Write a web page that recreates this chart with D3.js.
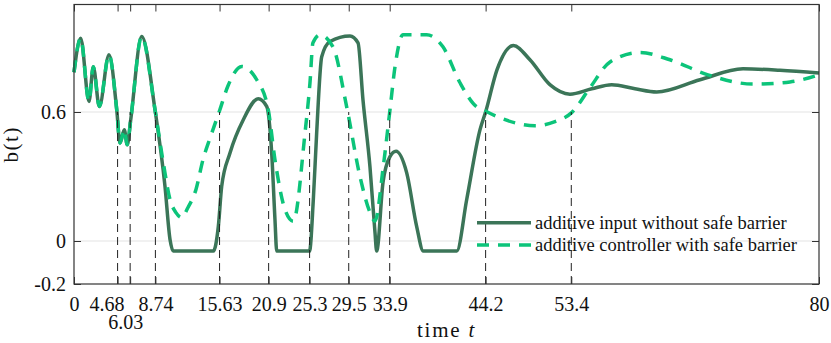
<!DOCTYPE html>
<html>
<head>
<meta charset="utf-8">
<script src="https://cdn.jsdelivr.net/npm/d3@7"></script>
<style>
  body { margin: 0; background: #fff; }
  svg { display: block; font-family: "Liberation Serif", "DejaVu Serif", serif; }
</style>
</head>
<body>
<svg id="chart" width="831" height="343"></svg>
<script>
// tick positions on the time axis (switch times)
const timeTicks = [0, 4.68, 6.03, 8.74, 15.63, 20.9, 25.3, 29.5, 33.9, 44.2, 53.4, 80];
const switchTimes = [4.68, 6.03, 8.74, 15.63, 20.9, 25.3, 29.5, 33.9, 44.2, 53.4];
const yTicks = [-0.2, 0, 0.6];
const barrierLevel = 0.6;

// additive input without safe barrier
const tInput = [0, 0.72, 1.61, 2.07, 2.72, 3.76, 4.59, 4.94, 5.40, 5.72, 6.09, 7.27, 8.70, 9.77, 10.31, 10.66,
  14.96, 15.50, 15.86, 16.75, 18.18, 19.79, 20.69, 21.23, 21.58, 21.77,
  25.29, 25.70, 26.06, 26.60, 27.49, 29.64, 30.50, 31.03, 31.78, 32.32, 32.50,
  33.18, 33.93, 34.58, 35.72, 36.80, 37.51, 41.10, 42.17, 43.60, 44.2, 45.42, 47.17,
  48.96, 51.1, 53.26, 55.6, 57.74, 60.24, 62.57, 67.22, 71.84, 75.81, 80];
const bInput = [0.785, 0.943, 0.649, 0.811, 0.626, 0.866, 0.610, 0.456, 0.518, 0.448, 0.564, 0.951, 0.61, 0.254, 0.007, -0.047,
  -0.047, 0.069, 0.254, 0.409, 0.564, 0.662, 0.626, 0.409, 0.10, -0.047,
  -0.047, 0.193, 0.504, 0.857, 0.928, 0.954, 0.922, 0.657, 0.346, 0.04, -0.047,
  0.272, 0.392, 0.417, 0.318, 0.067, -0.047, -0.047, 0.193, 0.518, 0.60, 0.796, 0.909,
  0.843, 0.727, 0.683, 0.708, 0.727, 0.708, 0.693, 0.75, 0.801, 0.794, 0.781];

// additive controller with safe barrier
const tCtrl = [0, 0.72, 1.61, 2.07, 2.72, 3.76, 4.59, 4.94, 5.40, 5.72, 6.09, 7.27, 8.70, 9.59, 10.31, 10.95,
  11.54, 12.24, 13.1, 13.85, 14.66, 15.63, 16.54, 18.01, 19.62, 20.86, 21.58, 22.66, 23.55,
  24.81, 25.34, 25.66, 26.42, 27.81, 29.28, 30.71, 31.79, 32.32, 33.21, 33.93, 34.47, 35.33,
  37.87, 39.62, 41.45, 43.24, 43.92, 45.74, 49.5, 51.65, 53.44, 55.41, 57.56, 60.78, 64,
  68.08, 72.91, 76.89, 80];
const bCtrl = [0.785, 0.943, 0.649, 0.811, 0.626, 0.866, 0.610, 0.456, 0.518, 0.448, 0.564, 0.951, 0.61, 0.364, 0.193, 0.132,
  0.109, 0.156, 0.24, 0.378, 0.485, 0.606, 0.722, 0.812, 0.75, 0.611, 0.378, 0.146, 0.092,
  0.504, 0.736, 0.922, 0.959, 0.903, 0.624, 0.30, 0.132, 0.092, 0.346, 0.61, 0.81, 0.959,
  0.959, 0.903, 0.736, 0.624, 0.61, 0.573, 0.536, 0.555, 0.597, 0.713, 0.833, 0.877, 0.843,
  0.773, 0.73, 0.74, 0.773];

const seriesNames = ["additive input without safe barrier", "additive controller with safe barrier"];

const svg = d3.select("#chart");
const width = 831, height = 343;
const margin = { top: 4.5, right: 12, bottom: 59, left: 74 };
const innerW = width - margin.left - margin.right;
const innerH = height - margin.top - margin.bottom;
const serif = "Liberation Serif, DejaVu Serif, serif";

const x = d3.scaleLinear().domain([0, 80]).range([margin.left, margin.left + innerW]);
const y = d3.scaleLinear().domain([-0.2, 1.1]).range([margin.top + innerH, margin.top]);

const solidColor = "#3b7558";
const dashColor = "#0cc47a";
const axisColor = "#333";

// grid lines
svg.append("g")
  .selectAll("line")
  .data(yTicks.filter(d => d > -0.2))
  .join("line")
    .attr("x1", x(0)).attr("x2", x(80))
    .attr("y1", d => y(d)).attr("y2", d => y(d))
    .attr("stroke", "#e3e3e3")
    .attr("stroke-width", 1);

const line = d3.line()
  .x(d => x(d[0]))
  .y(d => y(d[1]))
  .curve(d3.curveMonotoneX);

svg.append("path")
  .datum(d3.zip(tInput, bInput))
  .attr("fill", "none")
  .attr("stroke", solidColor)
  .attr("stroke-width", 3.5)
  .attr("stroke-linejoin", "round")
  .attr("d", line);

svg.append("path")
  .datum(d3.zip(tCtrl, bCtrl))
  .attr("fill", "none")
  .attr("stroke", dashColor)
  .attr("stroke-width", 3.5)
  .attr("stroke-dasharray", "12,9")
  .attr("d", line);

// vertical markers from the bottom to the barrier level
svg.append("g")
  .selectAll("line")
  .data(switchTimes)
  .join("line")
    .attr("x1", d => x(d)).attr("x2", d => x(d))
    .attr("y1", y(-0.2)).attr("y2", y(barrierLevel))
    .attr("stroke", "#222")
    .attr("stroke-width", 1)
    .attr("stroke-dasharray", "8,5");

// axes
const xAxis = svg.append("g")
  .attr("transform", `translate(0,${y(-0.2)})`)
  .call(d3.axisBottom(x).tickValues(timeTicks).tickFormat(d => String(d)).tickSize(-7).tickPadding(13));

svg.append("g")
  .attr("transform", `translate(${x(0)},0)`)
  .call(d3.axisLeft(y).tickValues(yTicks).tickFormat(d => String(d)).tickSize(-7).tickPadding(8));

svg.append("g")
  .attr("transform", `translate(0,${y(1.1)})`)
  .call(d3.axisTop(x).tickValues(timeTicks).tickFormat("").tickSize(-7));

svg.append("g")
  .attr("transform", `translate(${x(80)},0)`)
  .call(d3.axisRight(y).tickValues(yTicks).tickFormat("").tickSize(-7));

svg.selectAll(".domain").remove();
svg.selectAll("g").attr("font-family", serif);
svg.selectAll(".tick line").attr("stroke", axisColor);
svg.selectAll(".tick text")
  .attr("font-size", 20)
  .attr("font-family", serif)
  .attr("fill", "#111");

// crowded labels near the start are nudged left; 6.03 sits on a second row
xAxis.selectAll(".tick text")
  .filter(d => d === 4.68)
  .attr("dx", -11);
xAxis.selectAll(".tick text")
  .filter(d => d === 6.03)
  .attr("dx", -5)
  .attr("y", 31);

// frame
svg.append("rect")
  .attr("x", x(0)).attr("y", y(1.1))
  .attr("width", innerW).attr("height", innerH)
  .attr("fill", "none")
  .attr("stroke", axisColor)
  .attr("stroke-width", 1.2);

// axis labels
const xLabel = svg.append("text")
  .attr("x", x(40))
  .attr("y", 337)
  .attr("text-anchor", "middle")
  .attr("font-family", serif)
  .attr("font-size", 21)
  .attr("letter-spacing", 1.8)
  .attr("fill", "#111");
xLabel.append("tspan").text("time ");
xLabel.append("tspan").attr("font-style", "italic").text("t");

svg.append("text")
  .attr("transform", `translate(18,${(y(-0.2) + y(1.1)) / 2}) rotate(-90)`)
  .attr("text-anchor", "middle")
  .attr("font-family", serif)
  .attr("font-size", 21)
  .attr("letter-spacing", 1.5)
  .attr("fill", "#111")
  .text("b(t)");

// legend
const legend = svg.append("g");
const legendRows = [
  { name: seriesNames[0], color: solidColor, dash: null, yPos: 222.7 },
  { name: seriesNames[1], color: dashColor, dash: "12,9", yPos: 245 }
];
legendRows.forEach(r => {
  legend.append("line")
    .attr("x1", 477).attr("x2", 531)
    .attr("y1", r.yPos).attr("y2", r.yPos)
    .attr("stroke", r.color)
    .attr("stroke-width", 3.5)
    .attr("stroke-dasharray", r.dash);
  legend.append("text")
    .attr("x", 535)
    .attr("y", r.yPos + 6)
    .attr("font-family", serif)
    .attr("font-size", 18.5)
    .attr("fill", "#111")
    .text(r.name);
});
</script>
</body>
</html>
